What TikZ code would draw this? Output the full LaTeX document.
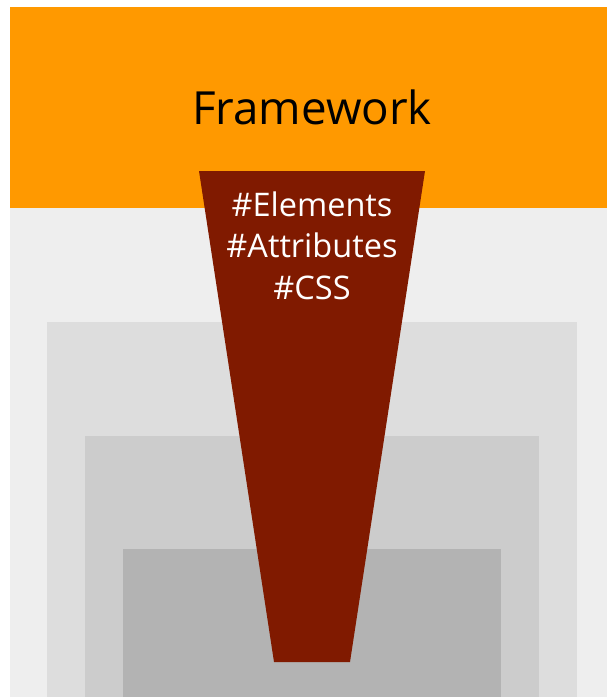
\documentclass[tikz,border=0pt]{standalone}
\usepackage{fontspec}
\setmainfont{Open Sans}

\definecolor{frameorange}{HTML}{FF9900}
\definecolor{funnelred}{HTML}{801A00}
\definecolor{layerA}{HTML}{EEEEEE}
\definecolor{layerB}{HTML}{DDDDDD}
\definecolor{layerC}{HTML}{CCCCCC}
\definecolor{layerD}{HTML}{B3B3B3}

\begin{document}
\begin{tikzpicture}[x=0.02cm,y=-0.02cm,
    tag/.style={text=white,font=\fontsize{18.5}{22}\selectfont}]
        \useasboundingbox[fill=white] (0,0) rectangle (607,697);
        \fill[frameorange] (10,7) rectangle (607,208);
        \fill[layerA] (10,208) rectangle (607,697);
        \fill[layerB] (47,322) rectangle (577,697);
        \fill[layerC] (85,436) rectangle (539,697);
        \fill[layerD] (123,549) rectangle (501,697);

        \node (title) at (312,107) {\fontsize{26}{30}\selectfont Framework};

        \fill[funnelred] (199,171) -- (425,171) -- (350,662) -- (274,662) -- cycle;

        \node[tag] (elem) at (312,204) {\#Elements};
        \node[tag] (attr) at (312,245) {\#Attributes};
        \node[tag] (css)  at (312,288) {\#CSS};
      \end{tikzpicture}
\end{document}
